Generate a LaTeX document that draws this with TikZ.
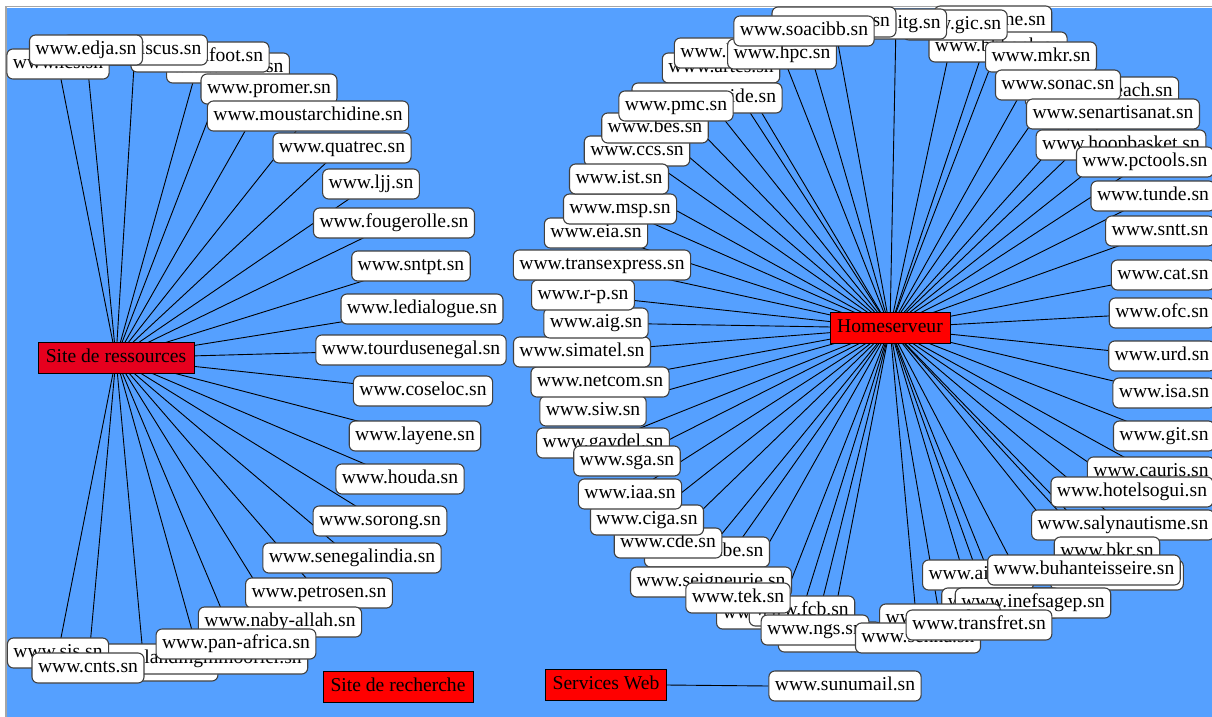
\documentclass[tikz,border=0pt]{standalone}
\usepackage{fontspec}
\setmainfont{Liberation Serif}

\pgfdeclarelayer{back}
\pgfdeclarelayer{wires}
\pgfsetlayers{back,wires,main}

\definecolor{pageblue}{RGB}{85,160,255}
\definecolor{hubred}{RGB}{230,0,30}

\begin{document}
\begin{tikzpicture}[x=1pt,y=-1pt]
  \tikzstyle{site} = [rectangle,rounded corners=6pt,draw=black!75,line
  width=1.1pt,fill=white,minimum height=30pt,inner xsep=6pt,inner ysep=0pt,
  text height=13.5pt,text depth=4pt,font=\fontsize{19.6}{22}\selectfont]
  \tikzstyle{hub} = [rectangle,draw=black,fill=red,minimum height=31pt,
  inner xsep=7pt,text height=13.5pt,text depth=4pt,font=\fontsize{19.6}{22}\selectfont]
  \tikzstyle{wire} = [black,line width=0.9pt]

  \useasboundingbox (0,0) rectangle (1212,717);

  % hubs
  \node[hub,fill=hubred,minimum width=156pt] (res) at (116,358) {Site de ressources};
  \node[hub] (home) at (890,328) {Homeserveur};
  \node[hub,minimum width=150pt] (rech) at (398,687) {Site de recherche};
  \node[hub] (web) at (606,685) {Services Web};
  \node[site] (sunumail) at (845,686) {www.sunumail.sn};

  % left fan
  \node[site] (rimm) at (228,68) {www.rimm.sn};
  \node[site] (senfoot) at (200,57) {www.senfoot.sn};
  \node[site] (hibiscus) at (135,50) {www.hibiscus.sn};
  \node[site] (ics) at (58,64) {www.ics.sn};
  \node[site] (edja) at (86,50) {www.edja.sn};
  \node[site] (promer) at (269,89) {www.promer.sn};
  \node[site] (moustar) at (308,116) {www.moustarchidine.sn};
  \node[site] (quatrec) at (342,148) {www.quatrec.sn};
  \node[site] (ljj) at (371,184) {www.ljj.sn};
  \node[site] (fougerolle) at (394,223) {www.fougerolle.sn};
  \node[site] (sntpt) at (411,266) {www.sntpt.sn};
  \node[site] (ledialogue) at (422,309) {www.ledialogue.sn};
  \node[site] (tourdu) at (411,350) {www.tourdusenegal.sn};
  \node[site] (coseloc) at (423,391) {www.coseloc.sn};
  \node[site] (layene) at (415,436) {www.layene.sn};
  \node[site] (houda) at (400,479) {www.houda.sn};
  \node[site] (sorong) at (380,521) {www.sorong.sn};
  \node[site] (senindia) at (352,558) {www.senegalindia.sn};
  \node[site] (petrosen) at (319,593) {www.petrosen.sn};
  \node[site] (ageroute) at (144,666) {www.ageroute.sn};
  \node[site] (landing) at (200,659) {www.landingmmoorier.sn};
  \node[site] (sis) at (58,653) {www.sis.sn};
  \node[site] (naby) at (280,622) {www.naby-allah.sn};
  \node[site] (panafrica) at (236,644) {www.pan-africa.sn};
  \node[site] (cnts) at (88,668) {www.cnts.sn};

  % right ring
  \node[site] (kane) at (993,21) {www.kane.sn};
  \node[site] (bhbank) at (998,47) {www.bhbank.sn};
  \node[site] (gic) at (955,25) {www.gic.sn};
  \node[site] (itg) at (896,24) {www.itg.sn};
  \node[site] (cosec) at (834,22) {www.cosec.sn};
  \node[site] (artes) at (721,68) {www.artes.sn};
  \node[site] (bst) at (726,53) {www.bst.sn};
  \node[site] (hpc) at (782,54) {www.hpc.sn};
  \node[site] (soacibb) at (804,31) {www.soacibb.sn};
  \node[site] (mkr) at (1041,57) {www.mkr.sn};
  \node[site] (sunbeach) at (1102,92) {www.sunbeach.sn};
  \node[site] (sonac) at (1058,85) {www.sonac.sn};
  \node[site] (senart) at (1113,114) {www.senartisanat.sn};
  \node[site] (hoop) at (1121,145) {www.hoopbasket.sn};
  \node[site] (pctools) at (1145,162) {www.pctools.sn};
  \node[site] (tunde) at (1153,196) {www.tunde.sn};
  \node[site] (sntt) at (1160,231) {www.sntt.sn};
  \node[site] (cat) at (1163,275) {www.cat.sn};
  \node[site] (ofc) at (1162,313) {www.ofc.sn};
  \node[site] (urd) at (1162,356) {www.urd.sn};
  \node[site] (isa) at (1164,393) {www.isa.sn};
  \node[site] (git) at (1164,436) {www.git.sn};
  \node[site] (cauris) at (1151,472) {www.cauris.sn};
  \node[site] (sogui) at (1132,492) {www.hotelsogui.sn};
  \node[site] (saly) at (1123,525) {www.salynautisme.sn};
  \node[site] (bkr) at (1107,552) {www.bkr.sn};
  \node[site] (bourse) at (1117,575) {www.bourse.sn};
  \node[site] (aisa) at (978,575) {www.aisa.sn};
  \node[site] (buhan) at (1084,570) {www.buhanteisseire.sn};
  \node[site] (ipres) at (1001,603) {www.ipres.sn};
  \node[site] (inefsagep) at (1033,603) {www.inefsagep.sn};
  \node[site] (snabe) at (707,552) {www.snabe.sn};
  \node[site] (cde) at (668,543) {www.cde.sn};
  \node[site] (ciga) at (647,520) {www.ciga.sn};
  \node[site] (seign) at (711,582) {www.seigneurie.sn};
  \node[site] (ccbm) at (778,614) {www.ccbm.sn};
  \node[site] (fcb) at (802,611) {www.fcb.sn};
  \node[site] (tek) at (738,598) {www.tek.sn};
  \node[site] (snr) at (830,637) {www.snr.sn};
  \node[site] (ngs) at (815,630) {www.ngs.sn};
  \node[site] (cosel) at (940,619) {www.cosel.sn};
  \node[site] (senna) at (918,638) {www.senna.sn};
  \node[site] (transfret) at (979,625) {www.transfret.sn};
  \node[site] (iaa) at (630,494) {www.iaa.sn};
  \node[site] (gaydel) at (603,443) {www.gaydel.sn};
  \node[site] (sga) at (627,461) {www.sga.sn};
  \node[site] (siw) at (593,411) {www.siw.sn};
  \node[site] (netcom) at (600,382) {www.netcom.sn};
  \node[site] (simatel) at (582,352) {www.simatel.sn};
  \node[site] (aig) at (596,323) {www.aig.sn};
  \node[site] (rp) at (583,295) {www.r-p.sn};
  \node[site] (transex) at (602,265) {www.transexpress.sn};
  \node[site] (eia) at (596,233) {www.eia.sn};
  \node[site] (msp) at (620,209) {www.msp.sn};
  \node[site] (ccs) at (637,151) {www.ccs.sn};
  \node[site] (ist) at (619,179) {www.ist.sn};
  \node[site] (bes) at (655,128) {www.bes.sn};
  \node[site] (senguide) at (707,98) {www.senguide.sn};
  \node[site] (pmc) at (676,106) {www.pmc.sn};

  \begin{pgfonlayer}{wires}
    \foreach \n in {rimm,senfoot,hibiscus,ics,edja,promer,moustar,quatrec,ljj,
      fougerolle,sntpt,ledialogue,tourdu,coseloc,layene,houda,sorong,senindia,
      petrosen,ageroute,landing,sis,naby,panafrica,cnts}
      \draw[wire] (res.center) -- (\n.center);
    \foreach \n in {kane,bhbank,gic,itg,cosec,artes,bst,hpc,soacibb,mkr,sunbeach,
      sonac,senart,hoop,pctools,tunde,sntt,cat,ofc,urd,isa,git,cauris,sogui,saly,
      bkr,bourse,aisa,buhan,ipres,inefsagep,snabe,cde,ciga,seign,ccbm,fcb,tek,
      snr,ngs,cosel,senna,transfret,iaa,gaydel,sga,siw,netcom,simatel,aig,rp,
      transex,eia,msp,ccs,ist,bes,senguide,pmc}
      \draw[wire] (home.center) -- (\n.center);
    \draw[wire] (web.east) -- (sunumail.west);
  \end{pgfonlayer}

  \begin{pgfonlayer}{back}
    \fill[white] (0,0) rectangle (1212,717);
    \fill[pageblue] (7,8) rectangle (1212,717);
    \draw[black!35,line width=1.5pt] (6,717) -- (6,6.5) -- (1212,6.5);
  \end{pgfonlayer}
\end{tikzpicture}
\end{document}
